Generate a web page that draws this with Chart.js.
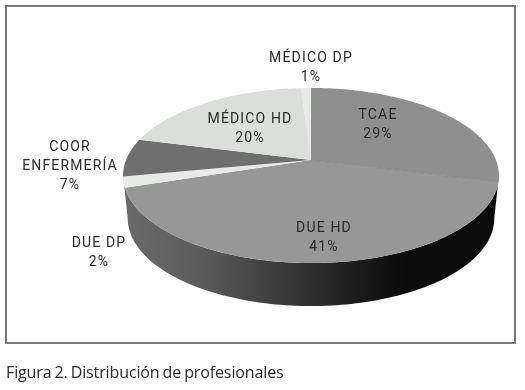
<!DOCTYPE html>
<html>
<head>
<meta charset="utf-8">
<script src="https://cdn.jsdelivr.net/npm/chart.js@4"></script>
<style>
    html, body { margin: 0; padding: 0; background: #fff; }
    #wrap { position: relative; width: 525px; height: 390px; overflow: hidden; }
    #frame { position: absolute; left: 5px; top: 5px; width: 507px; height: 335px; border: 2px solid #7a7a7a; }
    #myChart { position: absolute; left: 0; top: 0; }
    #caption { position: absolute; left: 6px; top: 361px; font: 16px "Open Sans", sans-serif; color: #2a2a2a; word-spacing: -1px; letter-spacing: -0.12px; white-space: nowrap; }
</style>
</head>
<body>
<div id="wrap">
    <div id="frame"></div>
    <canvas id="myChart" width="525" height="390"></canvas>
    <div id="caption">Figura 2. Distribución de profesionales</div>
</div>
<script>
const categories = ['TCAE', 'DUE HD', 'DUE DP', 'COOR ENFERMERÍA', 'MÉDICO HD', 'MÉDICO DP']
const shares = [29, 41, 2, 7, 20, 1]
const sliceColors = ['#8f8f8f', '#979797', '#e8eae8', '#6f6f6f', '#dcdedc', '#e6e8e6']

// where each label goes: centre x, first line y
const labelSpots = [
    [378, 115],
    [324, 228],
    [99, 243],
    [70, 147],
    [250, 119],
    [311, 58]
]
const labelLines = [['TCAE'], ['DUE HD'], ['DUE DP'], ['COOR', 'ENFERMERÍA'], ['MÉDICO HD'], ['MÉDICO DP']]

// tilted pie: circle points are pushed through a perspective map
const tilt = 0.177
const flatX = 1.156
const flatY = 0.53
const depth = 43

function project(el, t, shrink) {
    const s = Math.sin(t)
    const c = Math.cos(t)
    const w = 1 - tilt * s
    const r = el.outerRadius * (shrink || 1)
    return [el.x + r * flatX * c / w, el.y + el.outerRadius * flatY * s / w]
}

function wallGradient(ctx) {
    const g = ctx.createLinearGradient(124, 0, 498, 0)
    g.addColorStop(0, '#6a6a6a')
    g.addColorStop(0.2, '#5c5c5c')
    g.addColorStop(0.4, '#3e3e3e')
    g.addColorStop(0.58, '#222222')
    g.addColorStop(0.75, '#0a0a0a')
    g.addColorStop(1, '#0a0a0a')
    return g
}

const tiltedPie = {
    id: 'tiltedPie',
    beforeDatasetsDraw(chart) {
        const ctx = chart.ctx
        const arcs = chart.getDatasetMeta(0).data
        ctx.save()

        // side wall first, only the part that faces us
        ctx.fillStyle = wallGradient(ctx)
        ctx.beginPath()
        const from = tilt
        const to = Math.PI - tilt
        const steps = 120
        for (let i = 0; i <= steps; i++) {
            const p = project(arcs[0], from + (to - from) * i / steps)
            i === 0 ? ctx.moveTo(p[0], p[1]) : ctx.lineTo(p[0], p[1])
        }
        for (let i = steps; i >= 0; i--) {
            const p = project(arcs[0], from + (to - from) * i / steps, 0.975)
            ctx.lineTo(p[0], p[1] + depth)
        }
        ctx.closePath()
        ctx.fill()

        // top face
        arcs.forEach(el => {
            ctx.fillStyle = el.options.backgroundColor
            ctx.beginPath()
            ctx.moveTo(el.x, el.y)
            const n = Math.max(4, Math.ceil((el.endAngle - el.startAngle) * 60))
            for (let i = 0; i <= n; i++) {
                const p = project(el, el.startAngle + (el.endAngle - el.startAngle) * i / n)
                ctx.lineTo(p[0], p[1])
            }
            ctx.closePath()
            ctx.fill()
        })

        // thin seam between the two big grey slices
        const seam = project(arcs[0], arcs[0].endAngle)
        ctx.strokeStyle = '#7d7d7d'
        ctx.lineWidth = 0.6
        ctx.beginPath()
        ctx.moveTo(arcs[0].x, arcs[0].y)
        ctx.lineTo(seam[0], seam[1])
        ctx.stroke()
        ctx.restore()
        return false
    },
    afterDraw(chart) {
        const ctx = chart.ctx
        ctx.save()
        ctx.font = '14px Roboto, sans-serif'
        ctx.letterSpacing = '1.15px'
        ctx.fillStyle = '#2a2a2a'
        ctx.textAlign = 'center'
        ctx.textBaseline = 'middle'
        labelLines.forEach((lines, i) => {
            const spot = labelSpots[i]
            const rows = lines.concat(shares[i] + '%')
            rows.forEach((row, k) => ctx.fillText(row, spot[0], spot[1] + k * 19))
        })
        ctx.restore()
    }
}

new Chart(document.getElementById('myChart'), {
    type: 'pie',
    data: {
        labels: categories,
        datasets: [{
            data: shares,
            backgroundColor: sliceColors,
            borderWidth: 0
        }]
    },
    options: {
        responsive: false,
        animation: false,
        layout: { padding: { left: 97, right: 0, top: 0, bottom: 70 } },
        plugins: {
            legend: { display: false },
            tooltip: { enabled: false }
        }
    },
    plugins: [tiltedPie]
})
</script>
</body>
</html>
